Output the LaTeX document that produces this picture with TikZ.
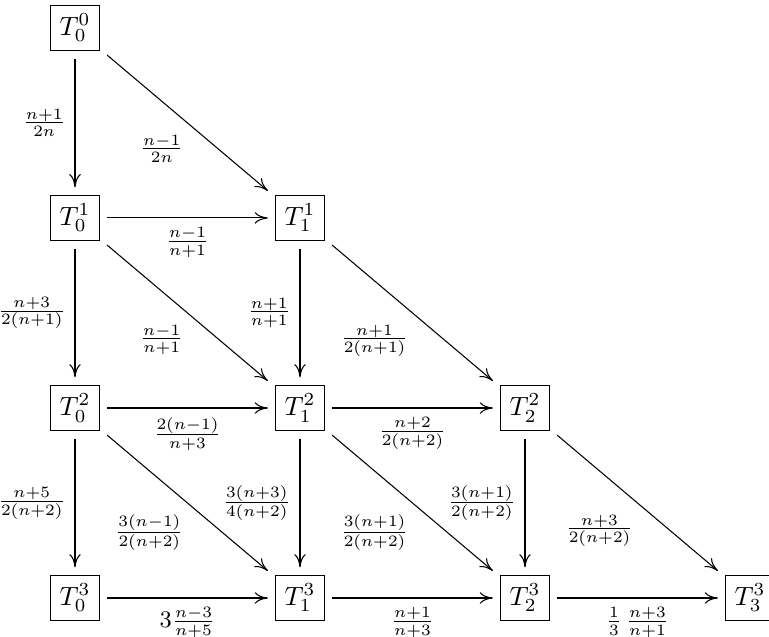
\documentclass[tikz,border=0pt]{standalone}
\usepackage{amsmath}
\usepackage{tikz}
\usetikzlibrary{arrows.meta}

\begin{document}
\begin{tikzpicture}[
  >={To[length=5pt, width=4.4pt]},
  st/.style={draw, rectangle, outer sep=3pt},
  tr/.style={thin, ->},
  lab/.style={midway, auto, swap, font=\small},
  dlab/.style={lab, xshift=2pt, yshift=-1pt}
]
\useasboundingbox (-1.0,-0.507) rectangle (9.253,7.973);

% ---- States, one row per level ----
\node[st] (t00) at (0,7.6)   {$T_0^0$};

\node[st] (t10) at (0,5.067) {$T_0^1$};
\node[st] (t11) at (3,5.067) {$T_1^1$};

\node[st] (t20) at (0,2.533) {$T_0^2$};
\node[st] (t21) at (3,2.533) {$T_1^2$};
\node[st] (t22) at (6,2.533) {$T_2^2$};

\node[st] (t30) at (0,0)     {$T_0^3$};
\node[st] (t31) at (3,0)     {$T_1^3$};
\node[st] (t32) at (6,0)     {$T_2^3$};
\node[st] (t33) at (9,0)     {$T_3^3$};

% ---- Level 0 -> 1 ----
\draw[tr] (t00) -- (t10) node[lab]  {$\frac{n+1}{2n}$};
\draw[tr] (t00) -- (t11) node[dlab] {$\frac{n-1}{2n}$};
\draw[tr] (t10) -- (t11) node[lab]  {$\frac{n-1}{n+1}$};

% ---- Level 1 -> 2 ----
\draw[tr] (t10) -- (t20) node[lab]  {$\frac{n+3}{2(n+1)}$};
\draw[tr] (t10) -- (t21) node[dlab] {$\frac{n-1}{n+1}$};
\draw[tr] (t11) -- (t21) node[lab]  {$\frac{n+1}{n+1}$};
\draw[tr] (t11) -- (t22) node[dlab] {$\frac{n+1}{2(n+1)}$};
\draw[tr] (t20) -- (t21) node[lab]  {$\frac{2(n-1)}{n+3}$};
\draw[tr] (t21) -- (t22) node[lab]  {$\frac{n+2}{2(n+2)}$};

% ---- Level 2 -> 3 ----
\draw[tr] (t20) -- (t30) node[lab]  {$\frac{n+5}{2(n+2)}$};
\draw[tr] (t20) -- (t31) node[dlab] {$\frac{3(n-1)}{2(n+2)}$};
\draw[tr] (t21) -- (t31) node[lab]  {$\frac{3(n+3)}{4(n+2)}$};
\draw[tr] (t21) -- (t32) node[dlab] {$\frac{3(n+1)}{2(n+2)}$};
\draw[tr] (t22) -- (t32) node[lab]  {$\frac{3(n+1)}{2(n+2)}$};
\draw[tr] (t22) -- (t33) node[dlab] {$\frac{n+3}{2(n+2)}$};

% ---- Bottom row ----
\draw[tr] (t30) -- (t31) node[lab] {$3\frac{n-3}{n+5}$};
\draw[tr] (t31) -- (t32) node[lab] {$\frac{n+1}{n+3}$};
\draw[tr] (t32) -- (t33) node[lab] {$\frac{1}{3}\,\frac{n+3}{n+1}$};

\end{tikzpicture}
\end{document}
